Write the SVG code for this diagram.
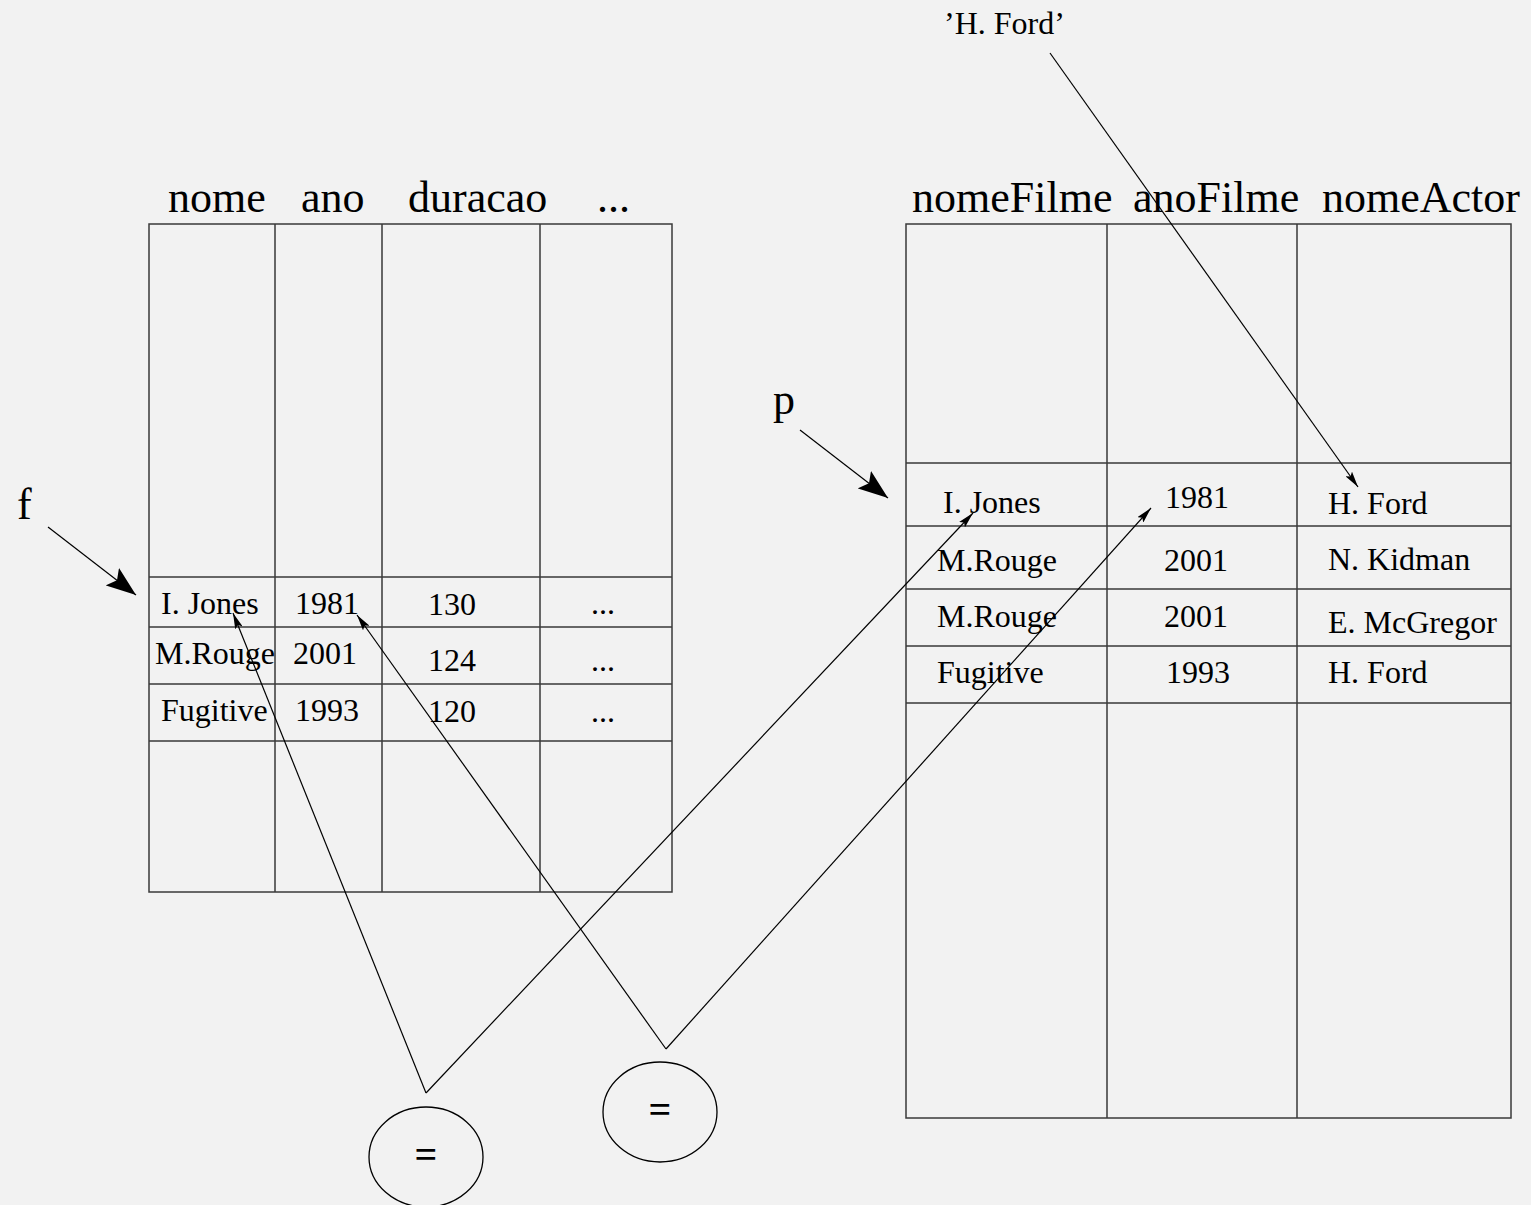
<svg xmlns="http://www.w3.org/2000/svg" width="1531" height="1205" viewBox="0 0 1531 1205">
<style>
.bg{fill:#f2f2f2}
.grid{fill:none;stroke:#3a3a3a;stroke-width:1.5}
.t{font-family:"Liberation Serif","Times New Roman",serif;fill:#000}
.h{font-size:44px}
.c{font-size:32px}
.eq{font-size:40px;font-weight:bold}
.conn{fill:none;stroke:#000;stroke-width:1.2}
.ell{fill:none;stroke:#000;stroke-width:1.3}
</style>
<defs>
<marker id="sm" viewBox="0 0 16 8" refX="16" refY="4" markerWidth="16" markerHeight="8" markerUnits="userSpaceOnUse" orient="auto">
<path d="M0,0 L16,4 L0,8 L3,4 z" fill="#000"/>
</marker>
<marker id="big" viewBox="0 0 30 22" refX="30" refY="11" markerWidth="30" markerHeight="22" markerUnits="userSpaceOnUse" orient="auto">
<path d="M0,0 L30,11 L0,22 L6,11 z" fill="#000"/>
</marker>
</defs>
<rect class="bg" x="0" y="0" width="1531" height="1205"/>

<g id="table-f">
<rect class="grid" x="149" y="224" width="523" height="668"/>
<path class="grid" d="M275,224V892M382,224V892M540,224V892M149,577H672M149,627H672M149,684H672M149,741H672"/>
<g class="t h">
<text x="168" y="212">nome</text>
<text x="301" y="212">ano</text>
<text x="408" y="212">duracao</text>
<text x="597" y="212">...</text>
</g>
<g class="t c">
<text x="161" y="614">I. Jones</text>
<text x="295" y="614">1981</text>
<text x="452" y="615" text-anchor="middle">130</text>
<text x="591" y="614">...</text>
<text x="155" y="664">M.Rouge</text>
<text x="293" y="664">2001</text>
<text x="452" y="671" text-anchor="middle">124</text>
<text x="591" y="671">...</text>
<text x="161" y="721">Fugitive</text>
<text x="295" y="721">1993</text>
<text x="452" y="722" text-anchor="middle">120</text>
<text x="591" y="722">...</text>
</g>
</g>

<g id="table-p">
<rect class="grid" x="906" y="224" width="605" height="894"/>
<path class="grid" d="M1107,224V1118M1297,224V1118M906,463H1511M906,526H1511M906,589H1511M906,646H1511M906,703H1511"/>
<g class="t h">
<text x="912" y="212">nomeFilme</text>
<text x="1133" y="212">anoFilme</text>
<text x="1322" y="212">nomeActor</text>
</g>
<g class="t c">
<text x="943" y="513">I. Jones</text>
<text x="1165" y="508">1981</text>
<text x="1328" y="514">H. Ford</text>
<text x="937" y="571">M.Rouge</text>
<text x="1164" y="571">2001</text>
<text x="1328" y="570">N. Kidman</text>
<text x="937" y="627">M.Rouge</text>
<text x="1164" y="627">2001</text>
<text x="1328" y="633">E. McGregor</text>
<text x="937" y="683">Fugitive</text>
<text x="1166" y="683">1993</text>
<text x="1328" y="683">H. Ford</text>
</g>
</g>

<g id="label-f"><text class="t h" x="17" y="519">f</text></g>
<g id="label-p"><text class="t h" x="773" y="414">p</text></g>
<g id="label-hford"><text class="t" style="font-size:32px" x="944" y="34">’H. Ford’</text></g>

<g id="eq1">
<ellipse class="ell" cx="426" cy="1157" rx="57" ry="50"/>
<text class="t eq" x="426" y="1168" text-anchor="middle">=</text>
</g>
<g id="eq2">
<ellipse class="ell" cx="660" cy="1112" rx="57" ry="50"/>
<text class="t eq" x="660" y="1123" text-anchor="middle">=</text>
</g>

<g id="connectors">
<line class="conn" x1="48" y1="527" x2="136" y2="595" marker-end="url(#big)"/>
<line class="conn" x1="800" y1="430" x2="888" y2="498" marker-end="url(#big)"/>
<line class="conn" x1="1050" y1="53" x2="1358" y2="487" marker-end="url(#sm)"/>
<line class="conn" x1="426" y1="1093" x2="233" y2="613" marker-end="url(#sm)"/>
<line class="conn" x1="426" y1="1093" x2="973" y2="513" marker-end="url(#sm)"/>
<line class="conn" x1="666" y1="1049" x2="357" y2="615" marker-end="url(#sm)"/>
<line class="conn" x1="666" y1="1049" x2="1151" y2="508" marker-end="url(#sm)"/>
</g>
</svg>
